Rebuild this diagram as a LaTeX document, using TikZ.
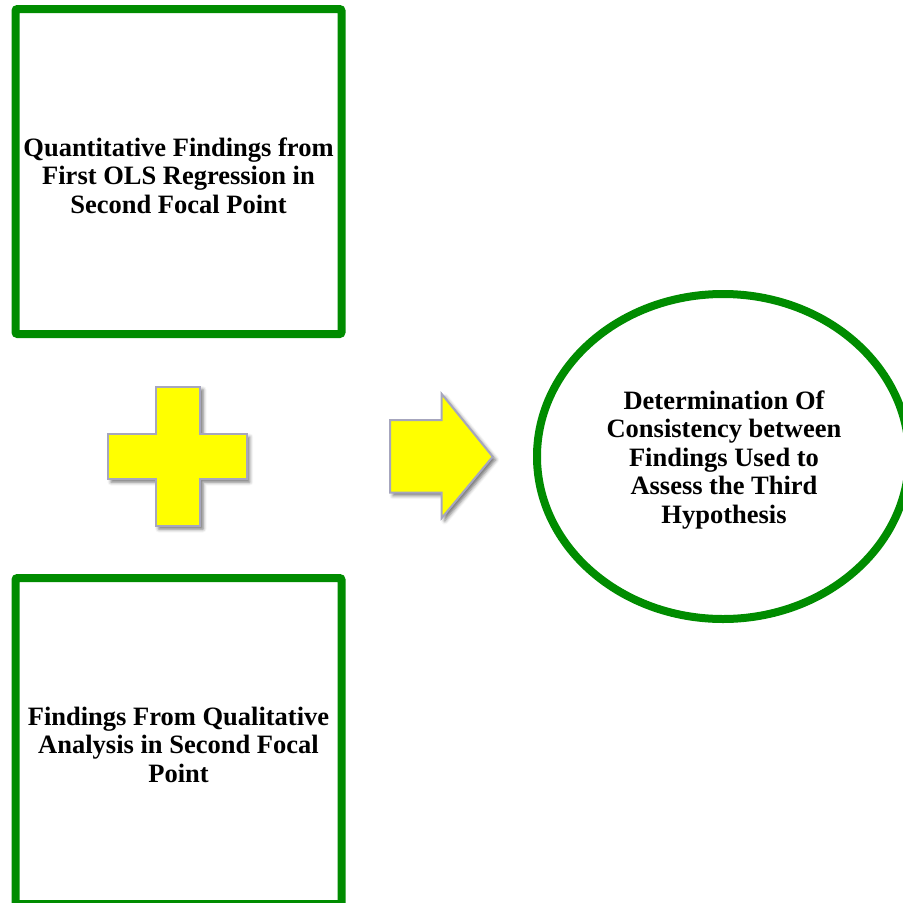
\documentclass[tikz,border=0pt]{standalone}
\usepackage{fontspec}
\setmainfont{Liberation Serif}
\usetikzlibrary{shadows.blur}
\definecolor{boxgreen}{RGB}{0,140,0}
\definecolor{signfill}{RGB}{255,255,0}
\definecolor{signedge}{RGB}{166,166,190}
\begin{document}
\begin{tikzpicture}[x=1pt,y=-1pt,
  findbox/.style={draw=boxgreen, line width=8pt, rounded corners=2pt, fill=white},
  resultoval/.style={draw=boxgreen, line width=8pt, fill=white},
  label/.style={font=\fontsize{26.5}{28.5}\selectfont\bfseries, align=center, text=black},
  sign/.style={fill=signfill, draw=signedge, line width=2pt, line join=miter,
    blur shadow={shadow xshift=3pt, shadow yshift=-3pt, shadow blur radius=3.5pt, shadow opacity=55}}]
  \useasboundingbox (0,0) rectangle (903,903);
  \begin{scope}
    \clip (0,0) rectangle (903,903);
    % two source boxes
    \draw[findbox] (15.5,9) rectangle (341.5,334);
    \draw[findbox] (15.5,578) rectangle (341.5,904);
    % outcome oval
    \draw[resultoval] (723,456.5) ellipse [x radius=186, y radius=162.5];
    % plus sign
    \draw[sign] (155.7,386.7) -- (200,386.7) -- (200,434) -- (246.7,434) -- (246.7,479)
      -- (200,479) -- (200,526) -- (155.7,526) -- (155.7,479) -- (108,479)
      -- (108,434) -- (155.7,434) -- cycle;
    % right arrow
    \draw[sign] (390,420) -- (441.7,420) -- (441.7,394) -- (492.7,456.7) -- (441.7,518)
      -- (441.7,492.7) -- (390,492.7) -- cycle;
  \end{scope}
  \node[label] (quant) at (178.5,175.5) {Quantitative Findings from\\First OLS Regression in\\Second Focal Point};
  \node[label] (qual) at (178.5,744.5) {Findings From Qualitative\\Analysis in Second Focal\\Point};
  \node[label] (consist) at (724,460) {Determination Of\\Consistency between\\Findings Used to\\Assess the Third\\Hypothesis};
\end{tikzpicture}
\end{document}
